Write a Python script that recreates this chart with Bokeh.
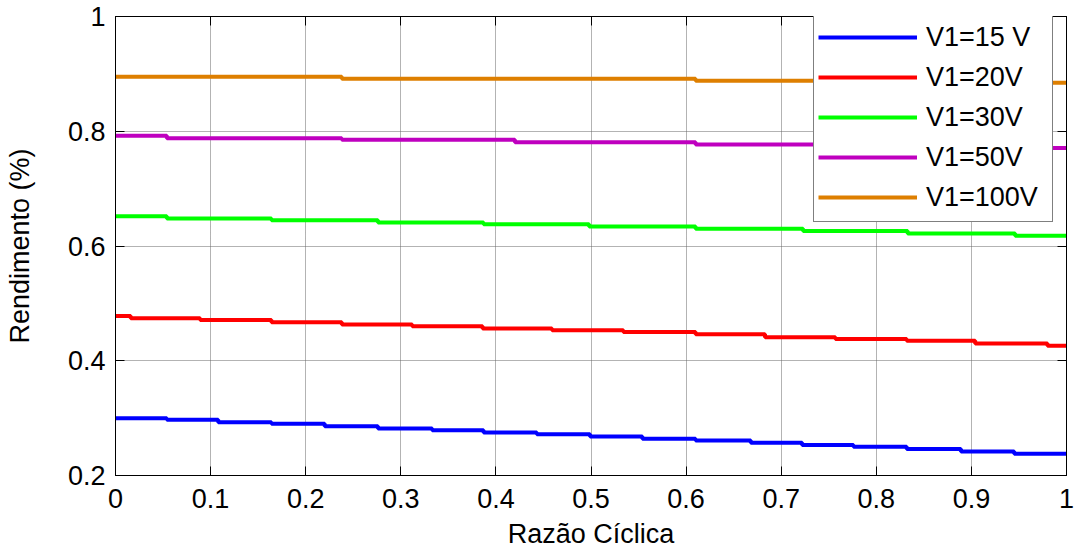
from bokeh.plotting import figure
from bokeh.models import (Range1d, LinearAxis, FixedTicker, Legend, LegendItem,
                          CustomLabelingPolicy)
from bokeh.embed import file_html
from bokeh.resources import INLINE

# ---------------- data ----------------
x_ticks = [0, 0.1, 0.2, 0.3, 0.4, 0.5, 0.6, 0.7, 0.8, 0.9, 1]
x_tick_labels = ["0", "0.1", "0.2", "0.3", "0.4", "0.5", "0.6", "0.7", "0.8", "0.9", "1"]
y_ticks = [0.2, 0.4, 0.6, 0.8, 1]
y_tick_labels = ["0.2", "0.4", "0.6", "0.8", "1"]

labels = ["V1=15 V", "V1=20V", "V1=30V", "V1=50V", "V1=100V"]
colors = ["#0000FF", "#FF0000", "#00FF00", "#BF00BF", "#DE7F00"]

# step positions (duty cycle where the value changes) and the held levels
v15_steps = [0.054, 0.108, 0.164, 0.220, 0.276, 0.333, 0.387, 0.443, 0.499,
             0.554, 0.610, 0.668, 0.722, 0.776, 0.832, 0.889, 0.945]
v15_levels = [0.300, 0.297, 0.293, 0.290, 0.286, 0.282, 0.279, 0.275, 0.272,
              0.268, 0.264, 0.261, 0.257, 0.253, 0.250, 0.246, 0.242, 0.238]

v20_steps = [0.016, 0.089, 0.164, 0.238, 0.312, 0.386, 0.459, 0.534, 0.610,
             0.683, 0.757, 0.832, 0.904, 0.980]
v20_levels = [0.478, 0.474, 0.471, 0.467, 0.463, 0.460, 0.456, 0.453, 0.450,
              0.446, 0.441, 0.438, 0.435, 0.430, 0.426]

v30_steps = [0.054, 0.164, 0.276, 0.387, 0.498, 0.610, 0.723, 0.833, 0.946]
v30_levels = [0.652, 0.648, 0.645, 0.641, 0.638, 0.634, 0.630, 0.626, 0.622, 0.618]

v50_steps = [0.054, 0.238, 0.420, 0.610, 0.794, 0.977]
v50_levels = [0.792, 0.788, 0.785, 0.781, 0.777, 0.774, 0.771]

v100_steps = [0.238, 0.610, 0.980]
v100_levels = [0.895, 0.8915, 0.888, 0.8846]

series_steps = [v15_steps, v20_steps, v30_steps, v50_steps, v100_steps]
series_levels = [v15_levels, v20_levels, v30_levels, v50_levels, v100_levels]

X_START, X_END = 0, 1

# ---------------- figure ----------------
FONT = "Liberation Sans"
FS = "27px"

p = figure(width=1077, height=552, output_backend="svg", toolbar_location=None,
           x_range=Range1d(0, 1), y_range=Range1d(0.2, 1),
           min_border_left=115, min_border_right=11, min_border_top=16,
           min_border_bottom=77, background_fill_color="white",
           border_fill_color="white")
p.outline_line_color = "black"
p.outline_line_width = 1

xt = FixedTicker(ticks=x_ticks)
yt = FixedTicker(ticks=y_ticks)

no_labels = CustomLabelingPolicy(code="return new indices.constructor(indices.size)")


def style_axis(ax, ticker, overrides, show_labels):
    ax.ticker = ticker
    ax.major_tick_in = 9
    ax.major_tick_out = 0
    ax.minor_tick_in = 0
    ax.minor_tick_out = 0
    ax.axis_line_color = "black"
    ax.major_tick_line_color = "black"
    ax.major_label_overrides = overrides
    if show_labels:
        ax.major_label_text_font = FONT
        ax.major_label_text_font_size = FS
        ax.major_label_text_color = "black"
        ax.major_label_text_line_height = 1.0
    else:
        ax.major_label_policy = no_labels
        ax.major_label_text_font_size = "0px"
        ax.major_label_standoff = 0
        ax.axis_label_standoff = 0


x_over = {t: l for t, l in zip(x_ticks, x_tick_labels)}
y_over = {t: l for t, l in zip(y_ticks, y_tick_labels)}

xb = p.xaxis[0]
yl = p.yaxis[0]
style_axis(xb, xt, x_over, True)
style_axis(yl, yt, y_over, True)
xb.major_label_standoff = 13
yl.major_label_standoff = 10
xb.axis_label = "Razão Cíclica"
yl.axis_label = "Rendimento (%)"
for ax in (xb, yl):
    ax.axis_label_text_font = FONT
    ax.axis_label_text_font_size = FS
    ax.axis_label_text_font_style = "normal"
    ax.axis_label_text_color = "black"
    ax.axis_label_text_line_height = 1.0
xb.axis_label_standoff = 8
yl.axis_label_standoff = 30

xa = LinearAxis()
style_axis(xa, xt, x_over, False)
p.add_layout(xa, "above")
yr = LinearAxis()
style_axis(yr, yt, y_over, False)
p.add_layout(yr, "right")

for g, t in ((p.xgrid[0], xt), (p.ygrid[0], yt)):
    g.ticker = t
    g.grid_line_color = "#666666"
    g.grid_line_dash = "1 1"
    g.grid_line_width = 1

items = []
for lab, col, st, lv in zip(labels, colors, series_steps, series_levels):
    xs = [X_START] + list(st) + [X_END]
    ys = list(lv) + [lv[-1]]
    r = p.step(xs, ys, mode="after", line_color=col, line_width=4)
    items.append(LegendItem(label=lab, renderers=[r]))

legend = Legend(items=items, location=(698, 253))
legend.padding = 4
legend.spacing = 0
legend.glyph_width = 99
legend.glyph_height = 40
legend.label_height = 40
legend.label_width = 122
legend.label_standoff = 9
legend.label_text_font = FONT
legend.label_text_font_size = FS
legend.label_text_color = "black"
legend.border_line_color = "black"
legend.border_line_width = 1
legend.background_fill_color = "white"
legend.background_fill_alpha = 1
legend.margin = 0
p.add_layout(legend)

open("out.html", "w").write(file_html(p, INLINE))
